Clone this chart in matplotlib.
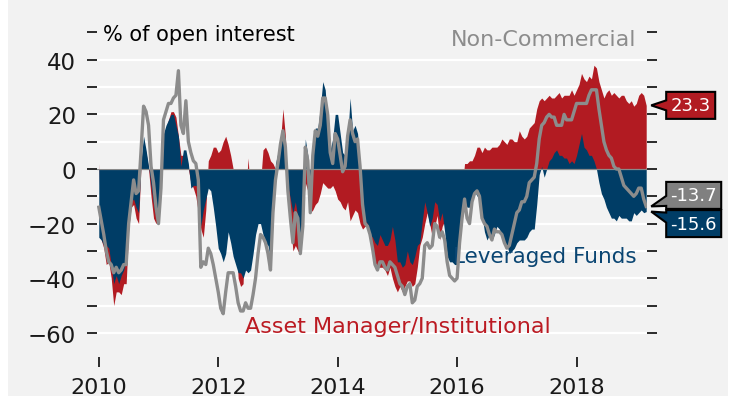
import numpy as np
import matplotlib
matplotlib.use('Agg')
import matplotlib.pyplot as plt
from matplotlib.patches import Polygon, Rectangle
from matplotlib.transforms import IdentityTransform

# half-monthly readings, Jan 2010 .. Mar 2019, net positions in % of open interest
non_commercial = [
    -14, -19, -24, -30, -34, -35, -38, -36, -38, -37, -35, -35, -20, -12, -4, -9, -8, 7, 23, 21, 16, 1, -5, -14,
    -20, -7, 18, 21, 24, 24, 26, 27, 36, 16, 13, 25, 10, 6, 3, 2, -4, -36, -34, -35, -29, -31, -35, -40,
    -45, -51, -53, -45, -38, -38, -38, -43, -49, -52, -52, -49, -51, -51, -46, -40, -31, -24, -25, -27, -31, -37, -16, -4,
    2, 9, 14, 8, -8, -18, -27, -16, -18, -31, -21, 8, 3, -16, 5, 14, 12, 16, 26, 26, 20, 6, 2, 13,
    11, 5, -1, 1, 12, 18, 13, 10, 11, 1, -13, -20, -21, -24, -29, -35, -37, -34, -34, -36, -37, -34, -35, -36,
    -39, -42, -43, -46, -43, -42, -49, -48, -43, -42, -40, -28, -27, -29, -28, -20, -21, -25, -23, -26, -34, -39, -40, -41,
    -40, -27, -18, -11, -18, -20, -12, -9, -8, -10, -18, -20, -21, -24, -26, -22, -23, -23, -24, -27, -29, -28, -24, -20,
    -16, -15, -12, -12, -10, -5, -4, -3, 2, 11, 16, 17, 19, 20, 19, 19, 16, 16, 16, 20, 18, 18, 18, 21,
    24, 24, 24, 24, 24, 27, 29, 29, 29, 22, 16, 10, 7, 5, 4, 1, 0, 0, -3, -6, -7, -8, -9, -10,
    -9, -7, -7, -11, -13.7,
]
leveraged_funds = [
    -25, -26, -28, -28, -29, -35, -42, -39, -42, -39, -37, -33, -19, -12, -11, -14, -16, 3, 12, 7, 1, -6, -13, -18,
    -15, 3, 13, 16, 18, 20, 20, 16, 12, 1, 7, 7, 2, -7, -6, -6, -7, -21, -15, -11, -7, -8, -14, -21,
    -29, -31, -34, -31, -23, -27, -32, -35, -38, -38, -40, -37, -38, -37, -31, -24, -20, -20, -24, -27, -28, -33, -14, 2,
    6, 10, 15, 6, -6, -11, -16, -12, -18, -27, -10, 11, 5, -15, 4, 15, 15, 22, 32, 29, 16, 7, 11, 20,
    20, 13, 6, 5, 11, 26, 14, 16, 13, 1, -13, -19, -20, -24, -25, -27, -28, -24, -26, -28, -28, -26, -21, -26,
    -34, -34, -36, -35, -30, -34, -35, -32, -28, -27, -19, -12, -16, -21, -18, -12, -13, -19, -16, -23, -32, -34, -34, -35,
    -35, -29, -17, -12, -14, -14, -10, -8, -10, -9, -17, -23, -26, -24, -26, -24, -21, -22, -25, -27, -28, -31, -30, -29,
    -27, -26, -26, -26, -25, -23, -22, -22, -13, -2, 1, -3, 0, 3, 4, 6, 7, 5, 5, 4, 4, 2, 3, 2,
    5, 9, 13, 8, 7, 5, 5, 3, 0, -5, -9, -11, -14, -16, -18, -18, -19, -17, -18, -18, -18, -19, -19, -16,
    -17, -16, -15, -16, -15.6,
]
asset_manager = [
    2, -26, -29, -35, -34, -40, -50, -45, -45, -46, -42, -42, -22, -14, -13, -18, -20, 2, 10, 6, 0, -10, -18, -20,
    -18, 2, 12, 15, 18, 21, 21, 19, 12, 5, 5, 3, 0, -5, -7, -10, -16, -22, -25, -15, 3, 5, 8, 8,
    6, 7, 10, 12, 9, 5, 0, -20, -40, -43, -42, -10, 4, -10, -15, -18, -20, -5, 7, 8, 6, 3, 2, 0,
    3, 10, 22, 12, -10, -18, -30, -28, -30, -31, -15, -5, -8, -16, -15, -13, -12, -9, -5, -6, -7, -7, -6, -8,
    -11, -12, -14, -15, -12, -19, -17, -15, -16, -20, -22, -21, -21, -26, -31, -34, -36, -36, -36, -37, -39, -36, -40, -43,
    -45, -43, -45, -43, -41, -41, -43, -42, -36, -28, -25, -20, -16, -20, -25, -21, -17, -26, -21, -19, -22, -31, -28, -30,
    -33, -29, -7, 2, 2, 3, 3, 5, 8, 8, 6, 8, 7, 7, 8, 8, 8, 9, 11, 10, 9, 11, 11, 10,
    10, 14, 12, 11, 12, 15, 16, 17, 22, 25, 26, 25, 26, 27, 26, 26, 27, 28, 26, 27, 27, 27, 29, 27,
    29, 31, 35, 33, 32, 34, 33, 38, 37, 32, 29, 26, 28, 29, 27, 28, 27, 26, 27, 27, 25, 24, 25, 23,
    24, 27, 28, 27, 23.3,
]
start_year = 2010
year_ticks = [2010, 2012, 2014, 2016, 2018]

red = '#b21b22'
blue = '#003d66'
grey = '#8c8c8c'
bg = '#f2f2f2'

years = start_year + np.arange(len(non_commercial)) / 24

fig = plt.figure(figsize=(7.36, 4.02), dpi=100, facecolor='white')
fig.patches.append(Rectangle((8 / 736, 5 / 402), 720 / 736, 397 / 402,
                             transform=fig.transFigure, facecolor=bg,
                             edgecolor='none', zorder=-10))
ax = fig.add_axes([97 / 736, 43.6 / 402, 550 / 736, 330.4 / 402])
ax.patch.set_alpha(0)

ax.set_xlim(2009.97, 2019.18)
ax.set_ylim(-69, 52)

# white gridlines every 10
ax.hlines(np.arange(-60, 41, 10), 2009.97, 2019.18, colors='white', lw=1.6, zorder=0)

ax.fill_between(years, 0, asset_manager, color=red, lw=0, zorder=2)
ax.fill_between(years, 0, leveraged_funds, color=blue, lw=0, zorder=3)
ax.axhline(0, color='#8a8a8a', lw=0.9, zorder=4)
ax.plot(years, non_commercial, color=grey, lw=2.4, zorder=5, solid_joinstyle='round')

for s in ax.spines.values():
    s.set_visible(False)

ax.set_yticks([-60, -40, -20, 0, 20, 40])
ax.set_yticks([-50, -30, -10, 10, 30, 50], minor=True)
ax.set_xticks(year_ticks)
ax.set_xticklabels([str(y) for y in year_ticks])
ax.tick_params(axis='y', which='both', direction='out', length=7, width=1.3,
               right=True, labelsize=16.5, pad=8, colors='#1a1a1a')
ax.tick_params(axis='x', direction='out', length=7, width=1.3,
               labelsize=16, pad=7, colors='#1a1a1a')

ax.text(2010.07, 49.5, '% of open interest', fontsize=15, color='black',
        ha='left', va='center')
ax.text(2019.0, 47.6, 'Non-Commercial', fontsize=16, color=grey,
        ha='right', va='center')
ax.text(2019.0, -32, 'Leveraged Funds', fontsize=15.5, color='#0b4673',
        ha='right', va='center')
ax.text(2015.0, -57.6, 'Asset Manager/Institutional', fontsize=16, color='#bb1a22',
        ha='center', va='center')


def tag(value, label, color, dy, width):
    # value box with a pointer at the last reading (pixel coords)
    x_end, y_tip = ax.transData.transform((years[-1], value))
    x_tip = x_end + 5
    x0, x1 = x_tip + 15, x_tip + 15 + width
    yc = y_tip + dy
    h = 13.5
    bm = yc + (y_tip - yc) * 0.5
    pts = [(x_tip, y_tip), (x0, bm - 5), (x0, yc - h), (x1, yc - h),
           (x1, yc + h), (x0, yc + h), (x0, bm + 5)]
    fig.add_artist(Polygon(pts, closed=True, facecolor=color, edgecolor='black',
                           lw=1.5, transform=IdentityTransform(), zorder=10))
    fig.text((x0 + x1) / 2, yc, label, transform=IdentityTransform(),
             color='white', fontsize=13, ha='center', va='center', zorder=11)


tag(asset_manager[-1], '23.3', red, 0, 49)
tag(non_commercial[-1], '-13.7', '#808080', 11, 55)
tag(leveraged_funds[-1], '-15.6', blue, -12, 55)

fig.savefig('out.png', dpi=100, facecolor=fig.get_facecolor())
